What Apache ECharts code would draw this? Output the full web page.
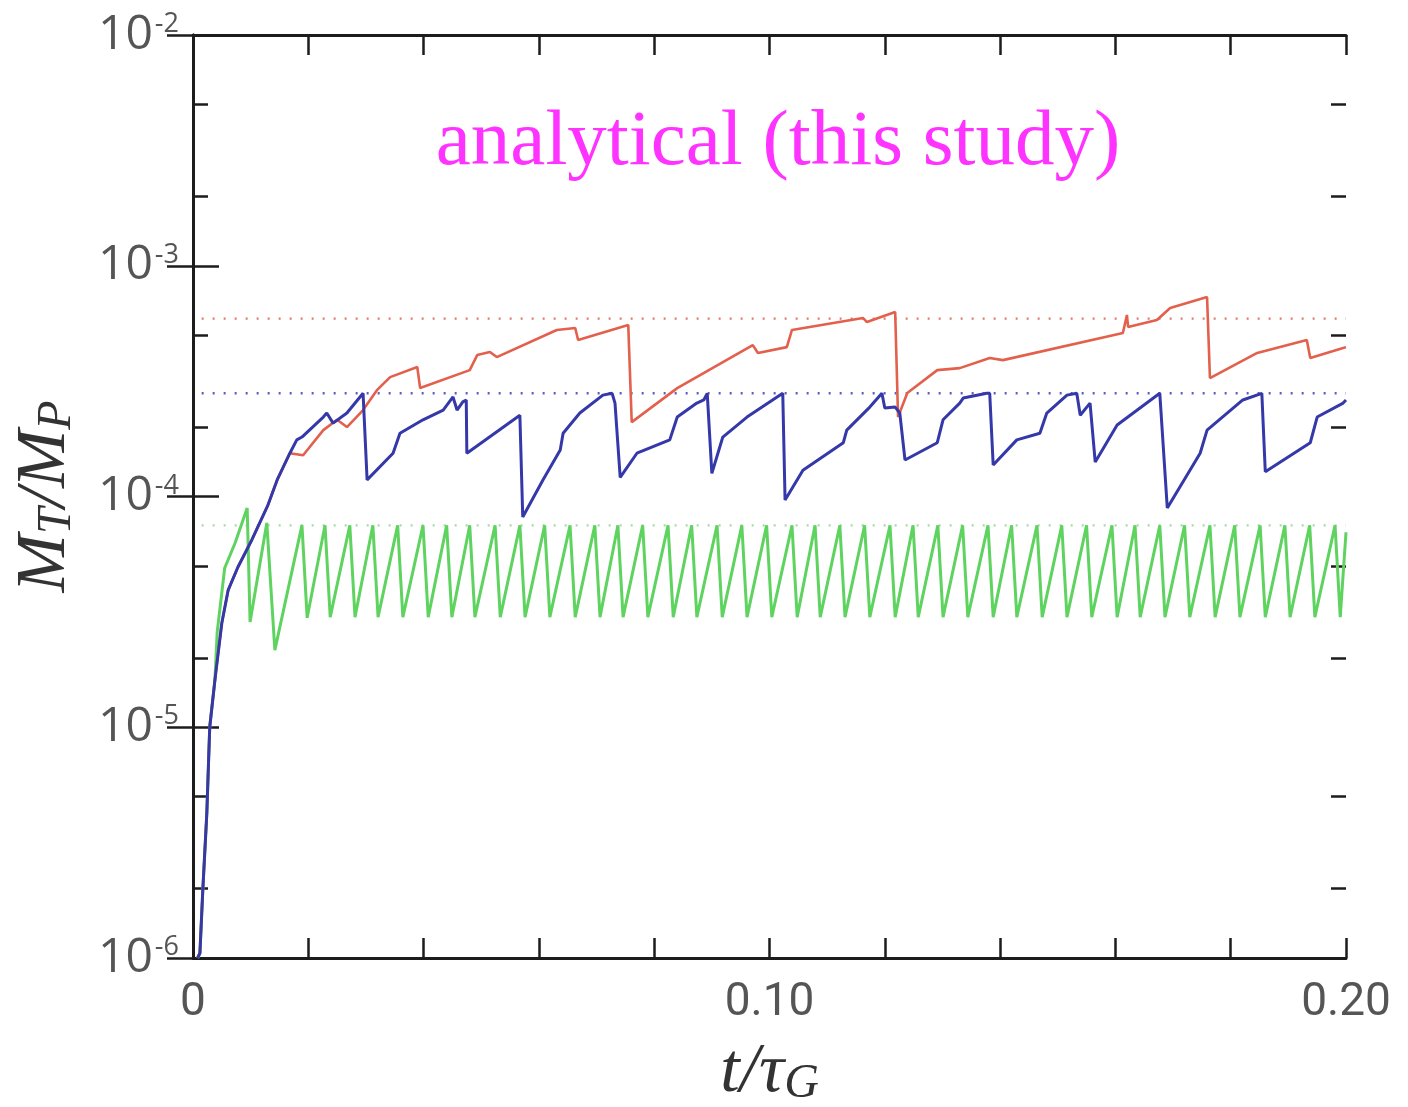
<!DOCTYPE html>
<html>
<head>
<meta charset="utf-8">
<script src="https://cdn.jsdelivr.net/npm/echarts@6/dist/echarts.min.js"></script>
<style>
html, body { margin: 0; padding: 0; background: #fff; }
#chart { width: 1408px; height: 1107px; }
</style>
</head>
<body>
<div id="chart"></div>
<script>
// values: [t / tau_G, M_T / M_P]

// common early growth, shared by all three runs
var riseStart = [[0.0008, 1.0e-6], [0.0012, 1.05e-6], [0.0017, 1.97e-6], [0.0024, 4.25e-6],
    [0.0029, 1.0e-5], [0.0038, 1.6e-5]];
// still shared by red and blue
var riseEnd = [[0.0050, 2.83e-5], [0.0061, 3.93e-5], [0.0078, 4.95e-5], [0.0102, 6.48e-5],
    [0.0130, 9.18e-5], [0.0146, 1.18e-4], [0.0168, 1.54e-4]];

var redRest = [[0.0191, 1.51e-4], [0.0226, 1.94e-4], [0.0250, 2.15e-4], [0.0267, 2.00e-4],
    [0.0295, 2.37e-4], [0.0319, 2.89e-4], [0.0342, 3.29e-4], [0.0389, 3.64e-4],
    [0.0394, 2.95e-4], [0.0480, 3.53e-4], [0.0493, 4.10e-4], [0.0515, 4.23e-4],
    [0.0527, 4.02e-4], [0.0631, 5.27e-4], [0.0663, 5.37e-4], [0.0668, 4.77e-4],
    [0.0755, 5.53e-4], [0.0761, 2.10e-4], [0.0840, 2.95e-4], [0.0971, 4.53e-4],
    [0.0980, 4.19e-4], [0.1030, 4.44e-4], [0.1039, 5.27e-4], [0.1162, 5.94e-4],
    [0.1169, 5.70e-4], [0.1218, 6.30e-4], [0.1223, 2.21e-4], [0.1239, 2.81e-4],
    [0.1291, 3.53e-4], [0.1330, 3.60e-4], [0.1382, 3.98e-4], [0.1405, 3.90e-4],
    [0.1613, 5.11e-4], [0.1620, 6.12e-4], [0.1622, 5.43e-4], [0.1672, 5.82e-4],
    [0.1695, 6.56e-4], [0.1759, 7.32e-4], [0.1764, 3.26e-4], [0.1846, 4.19e-4],
    [0.1932, 4.77e-4], [0.1938, 3.98e-4], [0.1995, 4.40e-4], [0.2000, 4.44e-4]];

var blueRest = [[0.0180, 1.76e-4], [0.0189, 1.81e-4], [0.0226, 2.21e-4], [0.0232, 2.30e-4],
    [0.0243, 2.08e-4], [0.0267, 2.30e-4], [0.0295, 2.8e-4], [0.0302, 1.18e-4],
    [0.0347, 1.54e-4], [0.0359, 1.88e-4], [0.0399, 2.15e-4], [0.0434, 2.37e-4],
    [0.0451, 2.70e-4], [0.0458, 2.37e-4], [0.0468, 2.57e-4], [0.0474, 2.62e-4],
    [0.0475, 1.54e-4], [0.0567, 2.25e-4], [0.0572, 8.15e-5], [0.0607, 1.18e-4],
    [0.0637, 1.59e-4], [0.0642, 1.88e-4], [0.0671, 2.30e-4], [0.0711, 2.75e-4],
    [0.0727, 2.8e-4], [0.0732, 2.54e-4], [0.0741, 1.21e-4], [0.0770, 1.54e-4],
    [0.0827, 1.76e-4], [0.0840, 2.21e-4], [0.0874, 2.54e-4], [0.0886, 2.62e-4],
    [0.0892, 2.8e-4], [0.0900, 1.26e-4], [0.0919, 1.81e-4], [0.0961, 2.21e-4],
    [0.1023, 2.8e-4], [0.1027, 9.65e-5], [0.1058, 1.30e-4], [0.1128, 1.71e-4],
    [0.1134, 1.94e-4], [0.1174, 2.44e-4], [0.1195, 2.8e-4], [0.1200, 2.42e-4],
    [0.1218, 2.44e-4], [0.1226, 2.30e-4], [0.1235, 1.44e-4], [0.1291, 1.71e-4],
    [0.1301, 2.15e-4], [0.1330, 2.54e-4], [0.1336, 2.67e-4], [0.1377, 2.8e-4],
    [0.1382, 2.8e-4], [0.1388, 1.37e-4], [0.1429, 1.76e-4], [0.1469, 1.88e-4],
    [0.1481, 2.30e-4], [0.1516, 2.75e-4], [0.1533, 2.8e-4], [0.1539, 2.25e-4],
    [0.1556, 2.54e-4], [0.1565, 1.41e-4], [0.1603, 2.04e-4], [0.1677, 2.8e-4],
    [0.1690, 8.92e-5], [0.1747, 1.54e-4], [0.1759, 1.94e-4], [0.1821, 2.62e-4],
    [0.1854, 2.8e-4], [0.1860, 1.28e-4], [0.1938, 1.71e-4], [0.1950, 2.21e-4],
    [0.1995, 2.54e-4], [0.2000, 2.62e-4]];

var greenRest = [[0.0042, 2.59e-5], [0.0055, 4.9e-5], [0.0073, 6.29e-5], [0.0094, 8.92e-5],
    [0.0099, 2.86e-5], [0.0128, 7.68e-5], [0.0142, 2.16e-5], [0.0189, 7.52e-5],
    [0.0198, 2.98e-5],
    [0.0229, 7.5e-5], [0.0238, 3.0e-5], [0.0272, 7.5e-5], [0.0281, 3.0e-5],
    [0.0312, 7.5e-5], [0.0321, 3.0e-5], [0.0355, 7.5e-5], [0.0364, 3.0e-5],
    [0.0399, 7.5e-5], [0.0408, 3.0e-5], [0.0440, 7.5e-5], [0.0449, 3.0e-5],
    [0.0480, 7.5e-5], [0.0489, 3.0e-5], [0.0524, 7.5e-5], [0.0533, 3.0e-5],
    [0.0567, 7.5e-5], [0.0576, 3.0e-5], [0.0610, 7.5e-5], [0.0619, 3.0e-5],
    [0.0654, 7.5e-5], [0.0663, 3.0e-5], [0.0697, 7.5e-5], [0.0706, 3.0e-5],
    [0.0737, 7.5e-5], [0.0746, 3.0e-5], [0.0780, 7.5e-5], [0.0789, 3.0e-5],
    [0.0824, 7.5e-5], [0.0833, 3.0e-5], [0.0865, 7.5e-5], [0.0874, 3.0e-5],
    [0.0909, 7.5e-5], [0.0918, 3.0e-5], [0.0952, 7.5e-5], [0.0961, 3.0e-5],
    [0.0995, 7.5e-5], [0.1004, 3.0e-5], [0.1039, 7.5e-5], [0.1048, 3.0e-5],
    [0.1079, 7.5e-5], [0.1088, 3.0e-5], [0.1122, 7.5e-5], [0.1131, 3.0e-5],
    [0.1165, 7.5e-5], [0.1174, 3.0e-5], [0.1209, 7.5e-5], [0.1218, 3.0e-5],
    [0.1249, 7.5e-5], [0.1258, 3.0e-5], [0.1292, 7.5e-5], [0.1301, 3.0e-5],
    [0.1335, 7.5e-5], [0.1344, 3.0e-5], [0.1379, 7.5e-5], [0.1388, 3.0e-5],
    [0.1420, 7.5e-5], [0.1429, 3.0e-5], [0.1464, 7.5e-5], [0.1473, 3.0e-5],
    [0.1507, 7.5e-5], [0.1516, 3.0e-5], [0.1550, 7.5e-5], [0.1559, 3.0e-5],
    [0.1594, 7.5e-5], [0.1603, 3.0e-5], [0.1634, 7.5e-5], [0.1643, 3.0e-5],
    [0.1677, 7.5e-5], [0.1686, 3.0e-5], [0.1720, 7.5e-5], [0.1729, 3.0e-5],
    [0.1764, 7.5e-5], [0.1773, 3.0e-5], [0.1807, 7.5e-5], [0.1816, 3.0e-5],
    [0.1851, 7.5e-5], [0.1860, 3.0e-5], [0.1894, 7.5e-5], [0.1903, 3.0e-5],
    [0.1937, 7.5e-5], [0.1946, 3.0e-5], [0.1981, 7.5e-5], [0.1990, 3.0e-5],
    [0.2000, 7.0e-5]];

// dotted reference levels, drawn from tStart to tEnd
var levelT = [0.0015, 0.2];
var redLimit = 5.9e-4;
var blueLimit = 2.8e-4;
var greenLimit = 7.5e-5;

// tick labels
var xLabelValues = [0, 0.10, 0.20];
var xLabelText = ['0', '0.10', '0.20'];
var yMinorTicks = [2e-6, 5e-6, 2e-5, 5e-5, 2e-4, 5e-4, 2e-3, 5e-3];

var chart = echarts.init(document.getElementById('chart'));

var axisColor = '#1c1c1c';
var labelColor = '#555';

function xLabel(v) {
    for (var i = 0; i < xLabelValues.length; i++) {
        if (Math.abs(v - xLabelValues[i]) < 1e-6) return xLabelText[i];
    }
    return '';
}

function yLabel(v) {
    var e = Math.round(Math.log10(v));
    return '{b|10}{s|' + e + '}';
}

// horizontal dotted level as its own little series
function level(value, color) {
    return {
        type: 'line', xAxisIndex: 0, yAxisIndex: 0,
        data: [[levelT[0], value], [levelT[1], value]],
        showSymbol: false, silent: true,
        lineStyle: { color: color, width: 2.4, type: [2, 9] },
        z: 1
    };
}

var minorLog = yMinorTicks.map(function (v) { return Math.log10(v); });

var option = {
    animation: false,
    backgroundColor: '#fff',
    grid: { left: 193, right: 62, top: 35, bottom: 149, show: false, containLabel: false, outerBoundsMode: 'none' },
    xAxis: [
        {
            type: 'value', position: 'bottom', min: 0, max: 0.2, interval: 0.02,
            axisLine: { lineStyle: { color: axisColor, width: 3 } },
            axisTick: { inside: true, length: 20, lineStyle: { color: axisColor, width: 2.5 } },
            axisLabel: { margin: 22, formatter: xLabel, color: labelColor, fontSize: 46, fontFamily: 'Roboto' },
            splitLine: { show: false },
            name: '{i|t/τ}{sub|G}',
            nameLocation: 'middle',
            nameGap: 80,
            nameTextStyle: {
                rich: {
                    i: { fontSize: 70, fontStyle: 'italic', fontFamily: 'Liberation Serif', color: '#333' },
                    sub: { fontSize: 48, fontStyle: 'italic', fontFamily: 'Liberation Serif', color: '#333', verticalAlign: 'bottom' }
                }
            }
        },
        {
            type: 'value', position: 'top', min: 0, max: 0.2, interval: 0.02,
            axisLine: { lineStyle: { color: axisColor, width: 3 } },
            axisTick: { inside: true, length: 20, lineStyle: { color: axisColor, width: 2.5 } },
            axisLabel: { show: false },
            splitLine: { show: false }
        }
    ],
    yAxis: [
        {
            type: 'log', logBase: 10, position: 'left', min: 1e-6, max: 1e-2,
            axisLine: { lineStyle: { color: axisColor, width: 3 } },
            axisTick: { inside: true, length: 26, lineStyle: { color: axisColor, width: 2.5 } },
            axisLabel: {
                margin: 14, formatter: yLabel,
                rich: {
                    b: { fontSize: 48, fontFamily: 'Open Sans', color: labelColor },
                    s: { fontSize: 27, fontFamily: 'Open Sans', color: labelColor, verticalAlign: 'top', padding: [0, 0, 0, 2] }
                }
            },
            splitLine: { show: false },
            name: '{i|M}{sub|T}{i|/M}{sub|P}',
            nameLocation: 'middle',
            nameRotate: 90,
            nameGap: 112,
            nameTextStyle: {
                rich: {
                    i: { fontSize: 70, fontStyle: 'italic', fontFamily: 'Liberation Serif', color: '#333' },
                    sub: { fontSize: 48, fontStyle: 'italic', fontFamily: 'Liberation Serif', color: '#333', verticalAlign: 'bottom' }
                }
            }
        },
        {
            type: 'log', logBase: 10, position: 'right', min: 1e-6, max: 1e-2,
            axisLine: { lineStyle: { color: axisColor, width: 3 } },
            axisTick: { inside: true, length: 26, lineStyle: { color: axisColor, width: 2.5 } },
            axisLabel: { show: false },
            splitLine: { show: false }
        },
        {
            type: 'value', position: 'left', min: -6, max: -2,
            axisLine: { show: false },
            axisTick: { inside: true, length: 15, customValues: minorLog, lineStyle: { color: axisColor, width: 2.5 } },
            axisLabel: { show: false },
            splitLine: { show: false }
        },
        {
            type: 'value', position: 'right', min: -6, max: -2,
            axisLine: { show: false },
            axisTick: { inside: true, length: 15, customValues: minorLog, lineStyle: { color: axisColor, width: 2.5 } },
            axisLabel: { show: false },
            splitLine: { show: false }
        }
    ],
    graphic: [
        {
            type: 'text', x: 778, y: 143,
            style: {
                text: 'analytical (this study)',
                fill: '#ff33ff',
                font: '79px "Liberation Serif"',
                align: 'center',
                verticalAlign: 'middle'
            }
        }
    ],
    series: [
        level(greenLimit, '#a6d9a6'),
        level(redLimit, '#e07a6a'),
        level(blueLimit, '#5c5cc4'),
        {
            type: 'line', name: 'green', xAxisIndex: 0, yAxisIndex: 0,
            data: riseStart.concat(greenRest),
            showSymbol: false,
            lineStyle: { color: '#5fd35f', width: 3 },
            z: 2
        },
        {
            type: 'line', name: 'red', xAxisIndex: 0, yAxisIndex: 0,
            data: riseStart.concat(riseEnd, redRest),
            showSymbol: false,
            lineStyle: { color: '#e2604c', width: 2.6 },
            z: 3
        },
        {
            type: 'line', name: 'blue', xAxisIndex: 0, yAxisIndex: 0,
            data: riseStart.concat(riseEnd, blueRest),
            showSymbol: false,
            lineStyle: { color: '#3438a8', width: 3 },
            z: 4
        }
    ]
};

chart.setOption(option);
</script>
</body>
</html>
